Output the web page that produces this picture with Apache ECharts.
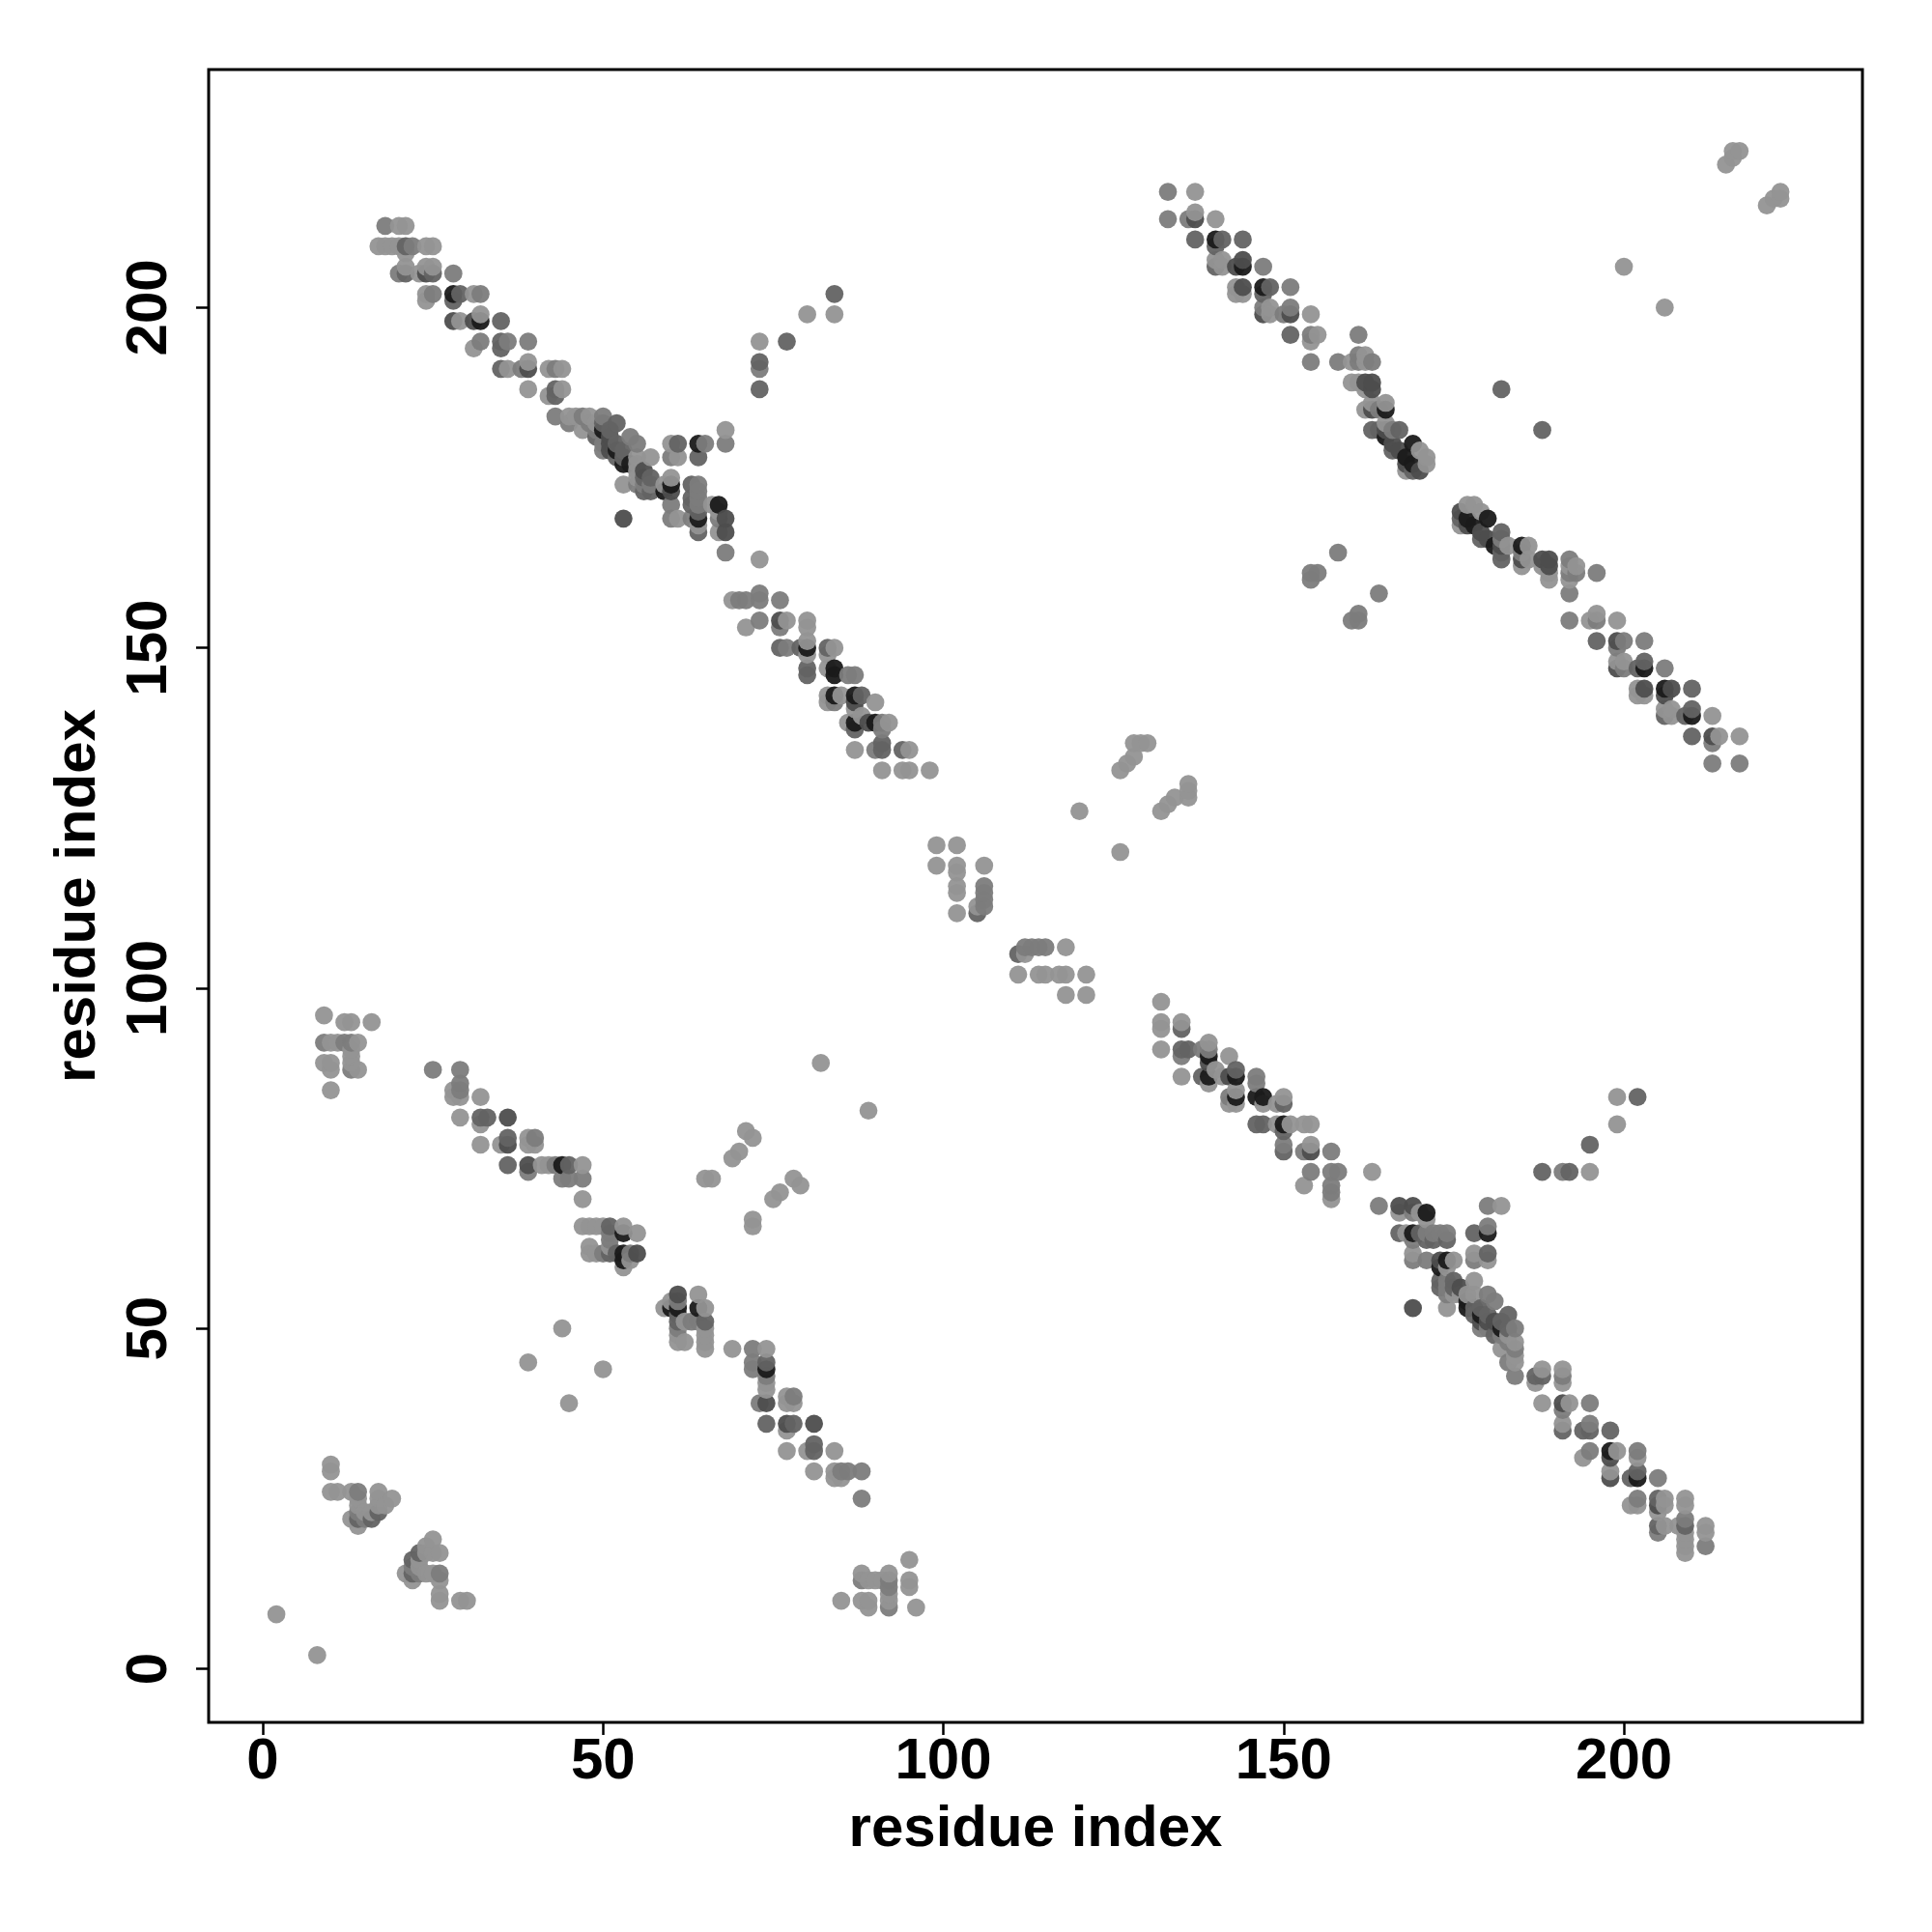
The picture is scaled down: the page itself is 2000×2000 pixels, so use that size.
<!DOCTYPE html>
<html><head><meta charset="utf-8">
<style>html,body{margin:0;padding:0;background:#fff}#c{width:2000px;height:2000px}</style>
<script src="https://cdn.jsdelivr.net/npm/echarts@6/dist/echarts.min.js"></script>
</head><body><div id="c"></div>
<script>
// contacts: [residue a, residue b, darkness level 1..5]; each contact is drawn at (a,b) and (b,a)
const strays = [[8,2,1],[45,39,1],[50,44,1],[72,65,1],[72,66,1],[75,69,1],[76,70,1],[78,72,1],[79,71,1],[89,82,1],[160,154,2],[161,154,2],[161,155,2],[164,158,2],[188,182,3],[206,200,1],[221,215,1],[222,216,1],[223,216,1],[223,217,1]];
const clusterLow = [[21,14,1],[22,13,1],[22,14,3],[22,15,2],[22,16,3],[23,14,2],[23,15,1],[23,16,1],[23,17,3],[24,14,1],[24,17,1],[24,18,1],[25,14,1],[25,17,1],[25,19,1],[26,10,1],[26,11,1],[26,13,1],[26,14,2],[26,17,1],[29,10,1],[30,10,1]];
const bandCentre = [[59,53,1],[60,53,5],[60,54,1],[61,48,1],[61,49,1],[61,50,2],[61,51,3],[61,52,3],[61,53,5],[61,54,2],[61,55,4],[62,48,1],[62,51,1],[63,51,2],[64,51,2],[64,53,5],[64,55,1],[65,47,1],[65,48,1],[65,49,1],[65,50,1],[65,51,3],[65,53,1]];
const bandLower = [[69,47,1],[72,44,2],[72,45,2],[72,47,2],[73,39,2],[74,36,3],[74,39,4],[74,41,1],[74,42,1],[74,43,2],[74,44,5],[74,45,3],[74,47,1],[77,32,1],[77,35,1],[77,36,4],[77,39,1],[77,40,1],[78,36,3],[78,39,1],[78,40,2],[80,32,1],[81,29,1],[81,32,3],[81,33,3],[81,36,4],[84,28,1],[84,29,1],[84,32,1],[85,28,1],[85,29,2],[86,29,2],[88,25,2],[88,29,2]];
const clusterTail = [[85,10,1],[88,10,1],[88,13,2],[88,14,1],[89,9,1],[89,10,1],[89,13,1],[90,13,1],[91,13,1],[92,9,2],[92,10,1],[92,11,1],[92,12,2],[92,13,2],[92,14,1],[95,12,1],[95,13,1],[95,16,1],[96,9,1]];
const clusterMiddle = [[111,102,1],[111,105,3],[112,105,1],[112,106,2],[113,106,2],[114,102,1],[114,106,2],[115,102,1],[115,106,2],[117,102,1],[118,99,1],[118,102,1],[118,106,1],[121,99,1],[121,102,1],[126,120,1],[132,126,1],[133,127,1],[134,128,1],[136,128,1],[136,129,1],[136,130,1]];
const farBandA = [[132,98,1],[132,95,1],[132,94,1],[132,91,1],[135,95,1],[135,94,3],[135,91,3],[135,90,2],[135,87,1],[136,91,3],[138,91,2],[138,87,3],[139,92,1],[139,91,2],[139,90,5],[139,89,4],[139,87,5],[139,86,1],[140,88,1],[141,87,1],[142,90,1],[142,87,4],[142,84,2],[142,83,1],[143,88,3],[143,87,5],[143,85,1],[143,84,5],[143,83,1],[146,87,2],[146,86,2],[146,84,5],[146,80,3],[147,84,5],[147,83,1],[147,80,3],[149,83,1],[149,80,1],[150,84,1],[150,83,3],[150,80,5],[150,79,3],[150,77,2],[150,76,3],[151,80,1],[153,80,1],[153,76,2],[153,71,1],[154,80,1],[154,77,1],[154,76,4],[154,73,2],[157,76,2],[157,73,2],[157,71,2],[157,70,2],[157,69,1],[158,73,2],[163,73,1]];
const farBandB = [[164,68,2],[167,68,4],[167,67,1],[167,64,3],[168,64,1],[169,68,4],[169,67,2],[169,64,5],[169,63,2],[169,61,1],[169,60,2],[169,53,4],[170,67,1],[170,64,3],[171,67,5],[171,66,1],[171,64,2],[171,63,3],[171,60,2],[172,64,2],[172,63,3],[173,64,2],[173,60,4],[173,59,5],[173,57,3],[173,56,3],[174,64,2],[174,63,3],[174,60,5],[174,59,1],[174,57,2],[174,56,2],[174,55,2],[174,53,1],[175,60,1],[175,57,3],[175,56,3],[175,55,1],[176,56,4],[176,55,1],[177,55,1],[177,54,5],[177,53,5],[178,64,3],[178,61,1],[178,60,2],[178,57,1],[178,55,1],[178,53,3],[178,52,3],[179,53,3],[179,52,5],[179,51,4],[179,50,2],[180,68,2],[180,65,2],[180,64,5],[180,61,3],[180,60,1],[180,55,2],[180,52,3],[180,51,4],[180,50,2],[181,54,2],[181,51,4],[181,49,3],[182,68,1],[182,51,3],[182,50,5],[182,49,2],[182,47,1],[183,52,3],[183,50,3],[183,49,1],[183,48,2],[183,45,2],[184,50,2],[184,48,1],[184,47,2],[184,46,1],[184,45,1],[184,43,2]];
const farBandC = [[187,43,3],[187,42,1],[188,73,3],[188,44,1],[188,43,3],[188,39,1],[191,73,2],[191,44,1],[191,43,2],[191,42,1],[191,39,4],[191,38,2],[191,36,1],[191,35,3],[192,73,3],[192,39,1],[194,35,3],[194,31,1],[195,77,3],[195,73,1],[195,39,2],[195,36,2],[195,35,3],[195,32,2],[198,35,3],[198,32,5],[198,31,4],[198,29,1],[198,28,4],[199,84,1],[199,80,1],[199,32,1],[201,28,3],[201,24,1],[202,84,3],[202,32,2],[202,31,1],[202,29,3],[202,28,5],[202,25,2],[202,24,1],[205,28,2],[205,25,3],[205,24,4],[205,23,1],[205,21,3],[205,20,2],[206,25,1],[206,24,1],[206,21,1],[208,21,1],[209,25,1],[209,24,1],[209,22,2],[209,21,3],[209,20,1],[209,19,1],[209,18,1],[209,17,1],[212,21,1],[212,20,1],[212,18,2]];
const topBandA = [[133,217,2],[137,217,1],[133,213,2],[136,213,2],[137,214,1],[137,213,4],[140,213,1],[137,210,3],[140,210,5],[140,209,3],[141,210,3],[144,210,3],[140,207,1],[140,206,3],[141,207,1],[141,206,1],[143,206,4],[144,207,4],[144,206,5],[147,206,2],[143,203,1],[143,202,1],[144,203,4],[144,202,1],[147,203,5],[148,203,3],[147,202,3],[151,203,2],[147,200,2],[148,200,1],[148,199,1],[147,199,4],[150,199,2],[151,200,2],[151,199,4],[154,199,1],[151,196,3],[154,196,2],[155,196,1],[154,195,1],[161,196,2]];
const topBandB = [[154,192,2],[158,192,2],[160,192,1],[161,193,2],[162,193,1],[161,192,2],[162,192,1],[163,192,2],[160,189,1],[161,189,1],[162,189,4],[163,189,4],[163,188,4],[162,188,1],[162,185,1],[163,185,4],[163,186,1],[164,185,2],[165,186,1],[165,185,5],[163,182,3],[164,182,3],[165,183,1],[165,182,4],[165,181,5],[166,182,2],[166,180,4],[166,179,3],[167,182,3],[167,179,4],[168,178,5],[168,177,4],[168,176,1],[169,180,5],[169,177,5],[169,176,3],[170,179,1],[170,176,4],[171,178,1],[171,177,1]];

const tickValues = [0,50,100,150,200];
const axisTitle = 'residue index';
const toneColors = ['#949494','#7c7c7c','#636363','#4d4d4d','#1a1a1a'];

const contacts = [].concat(strays,clusterLow,bandCentre,bandLower,clusterTail,clusterMiddle,farBandA,farBandB,farBandC,topBandA,topBandB);
const points = [];
contacts.forEach(function(c){ points.push([c[0],c[1],c[2]]); points.push([c[1],c[0],c[2]]); });
points.sort(function(p,q){ return p[0]-q[0] || p[1]-q[1]; });

function axis(extra){
  return Object.assign({
    type:'value', scale:false,
    name:axisTitle, nameLocation:'middle',
    nameTextStyle:{fontFamily:'Liberation Sans',fontWeight:'bold',fontSize:60,color:'#000'},
    splitLine:{show:false},
    axisLine:{show:false,onZero:false},
    axisTick:{show:true,length:13,lineStyle:{color:'#000',width:2.5},customValues:tickValues},
  },extra);
}
const labelStyle = {fontFamily:'Liberation Sans',fontWeight:'bold',fontSize:60,color:'#000',customValues:tickValues,formatter:function(v){return String(v);}};

const chart = echarts.init(document.getElementById('c'),null,{renderer:'canvas'});
chart.setOption({
  animation:false,
  backgroundColor:'#fff',
  grid:{left:216,top:72,width:1712,height:1711,show:true,borderColor:'#000',borderWidth:3,backgroundColor:'transparent'},
  xAxis:axis({min:-7.95,max:235.05,nameGap:81,axisLabel:Object.assign({margin:11},labelStyle)}),
  yAxis:axis({min:-7.88,max:234.97,nameGap:105,axisLabel:Object.assign({margin:31,rotate:90,align:'center',verticalAlign:'bottom'},labelStyle)}),
  series:[{
    type:'scatter',symbol:'circle',symbolSize:18.7,silent:true,clip:true,
    data:points.map(function(p){return {value:[p[0],p[1]],itemStyle:{color:toneColors[p[2]-1],opacity:0.95}};})
  }]
});
</script></body></html>
